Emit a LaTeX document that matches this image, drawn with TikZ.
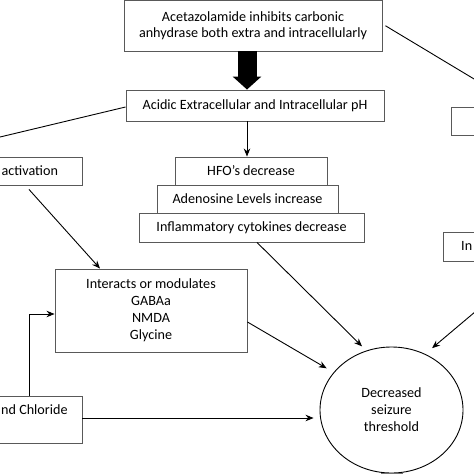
\documentclass[tikz,border=0pt]{standalone}
\usepackage{fontspec}
\setmainfont{Carlito}
\usetikzlibrary{arrows.meta,shapes.geometric,calc}
\begin{document}
\begin{tikzpicture}[x=1bp,y=-1bp,
  box/.style={draw=black!65,line width=0.9bp,fill=white,inner sep=0pt,align=center,
    font=\fontsize{14.2}{16}\selectfont},
  txt/.style={inner sep=0pt,font=\fontsize{14.2}{16}\selectfont},
  con/.style={line width=0.9bp,-{Stealth[length=8bp,width=6.5bp]}},
  plain/.style={line width=0.9bp}]
\useasboundingbox (0,0) rectangle (474,474);
\clip (0,0) rectangle (474,474);
\fill[white] (0,0) rectangle (474,474);

% boxes
\node[box,minimum width=258bp,minimum height=50.5bp] (top) at (253,25.75)
  {Acetazolamide inhibits carbonic\\anhydrase both extra and intracellularly};
\node[box,minimum width=258bp,minimum height=31bp] (ph) at (255,105.5)
  {Acidic Extracellular and Intracellular pH};
\node[box,minimum width=225bp,minimum height=29bp] (infl) at (251.5,227.5)
  {Inflammatory cytokines decrease};
\node[box,minimum width=181bp,minimum height=28bp] (aden) at (247.5,199)
  {Adenosine Levels increase};
\node[box,minimum width=152bp,minimum height=28bp] (hfo) at (251,171)
  {HFO’s decrease};
\node[box,minimum width=142bp,minimum height=28bp] (act) at (11,171) {};
\node[txt,anchor=west] (acttxt) at (1.5,171) {activation};
\node[box,minimum width=192bp,minimum height=83bp,font=\fontsize{14.2}{17}\selectfont] (inter) at (151,310.5)
  {Interacts or modulates\\GABAa\\NMDA\\Glycine};
\node[box,minimum width=142bp,minimum height=47bp] (chl) at (11,419.5) {};
\node[txt,anchor=west] (chltxt) at (1,410) {nd Chloride};
\node[box,minimum width=89bp,minimum height=28bp] (r1) at (495.5,121) {};
\node[box,minimum width=97bp,minimum height=29bp] (r2) at (491.5,246.5) {};
\node[txt,anchor=west] (r2txt) at (461,246) {In};
\node[draw=black,line width=0.9bp,ellipse,minimum width=143bp,minimum height=126bp,
  inner sep=0pt,align=center,font=\fontsize{14.2}{17}\selectfont] (ell) at (391.5,410)
  {Decreased\\seizure\\threshold};

% off-frame ends
\coordinate (offL) at (-20,141.8);
\coordinate (offR1) at (490,88.6);
\coordinate (offR2) at (490,299.3);

% connectors
\draw[line width=19bp,-{Triangle[length=13bp,width=28bp]}]
  ([xshift=-6bp]top.south) -- ([xshift=-6bp]top.south |- ph.north);
\draw[con] ([xshift=-8bp]ph.south) -- ([xshift=-8bp]ph.south |- hfo.north);
\draw[plain] ([yshift=-1.5bp]ph.west) -- (offL);
\draw[plain] ([xshift=3bp]top.east) -- (offR1);
\draw[con] ([xshift=18bp,yshift=-4bp]act.south) -- ([xshift=-51bp]inter.north);
\draw[con] ([xshift=18bp]chl.north) |- ([yshift=-3.5bp]inter.west);
\draw[con,shorten >=6bp] ([yshift=1.5bp]chl.east) -- ([yshift=1.5bp]chl.east -| ell.west);
\draw[con,shorten >=8bp] ([yshift=-11.5bp]inter.east) -- (ell.147);
\draw[con,shorten >=6bp] ([xshift=5.5bp]infl.south) -- (ell.113);
\draw[con,shorten >=9bp] (offR2) -- (ell.59);
\fill[black!55] ([xshift=-11bp]ell.south) rectangle ([xshift=11bp,yshift=-6bp]ell.south);
\end{tikzpicture}
\end{document}
